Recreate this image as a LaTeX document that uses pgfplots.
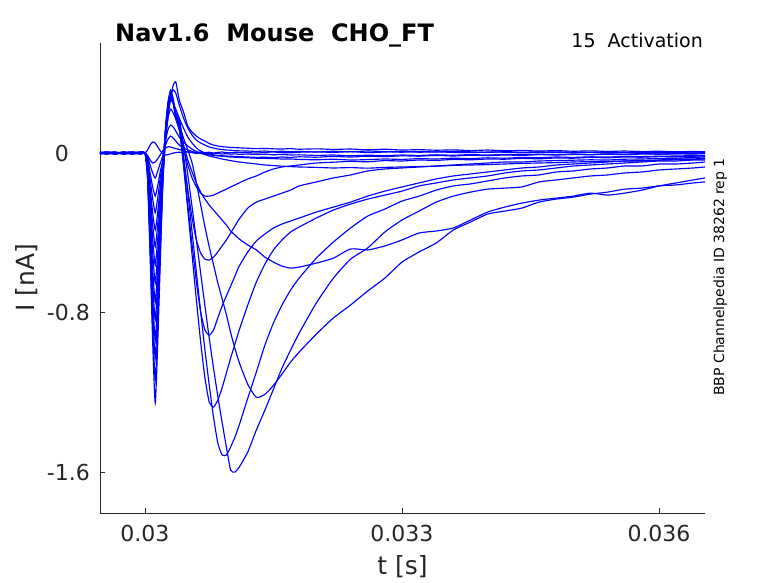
\documentclass[border=0pt]{standalone}
\usepackage{fontspec}
\setmainfont{DejaVu Sans}
\usepackage{pgfplots}
\usepackage{pgfplotstable}
\pgfplotsset{compat=1.18}
\definecolor{axgray}{HTML}{262626}
\pgfplotstableread{
t c1 c2 c3 c4 c5 c6 c7 c8 c9 c10 c11 c12 c13 c14 c15
0.029475 0.003 -0.002 0.005 -0.004 0.002 -0.005 0.004 -0.003 0.006 -0.001 0.004 -0.006 0.001 -0.003 0.005
0.02955 -0.004 0.004 -0.002 0.002 0.005 -0.002 0.001 0.006 -0.005 0.003 -0.006 0.002 -0.003 0.005 0.000
0.02965 0.005 -0.003 0.003 -0.005 -0.003 0.004 -0.004 0.002 0.001 -0.006 0.002 0.005 -0.002 -0.004 0.003
0.02975 -0.002 0.005 -0.005 0.003 0.002 -0.003 0.006 -0.004 0.003 0.001 -0.001 -0.006 0.004 0.002 -0.004
0.02985 0.004 -0.004 0.002 -0.002 0.006 0.001 -0.003 0.003 -0.006 0.005 -0.003 0.002 -0.005 0.003 -0.001
0.02995 -0.003 0.002 0.004 -0.004 -0.002 0.005 0.002 -0.005 0.003 -0.001 0.006 -0.002 0.003 -0.006 0.004
0.03000 0 0 0 0 0 0 0 0 0 0 0 0 0 0 0
0.03003 0.015 -0.012 -0.015 -0.025 -0.03 -0.04 -0.05 -0.06 -0.07 -0.08 -0.09 -0.10 -0.11 -0.12 -0.13
0.03006 0.040 -0.035 -0.06 -0.10 -0.13 -0.17 -0.20 -0.24 -0.28 -0.32 -0.36 -0.40 -0.44 -0.48 -0.52
0.03009 0.055 -0.050 -0.10 -0.17 -0.23 -0.30 -0.36 -0.43 -0.50 -0.58 -0.65 -0.72 -0.79 -0.87 -0.95
0.03012 0.050 -0.045 -0.125 -0.216 -0.30 -0.386 -0.471 -0.562 -0.652 -0.747 -0.837 -0.938 -1.028 -1.138 -1.254
0.03015 0.030 -0.028 -0.09 -0.16 -0.22 -0.29 -0.35 -0.42 -0.49 -0.56 -0.63 -0.70 -0.77 -0.85 -0.94
0.03018 0.010 -0.008 -0.05 -0.09 -0.12 -0.16 -0.20 -0.24 -0.28 -0.32 -0.36 -0.40 -0.44 -0.48 -0.53
0.03021 -0.005 0.012 -0.01 -0.03 -0.04 -0.05 -0.06 -0.07 -0.08 -0.09 -0.10 -0.11 -0.12 -0.13 -0.14
0.03024 -0.010 0.025 0.04 0.06 0.08 0.10 0.11 0.12 0.13 0.12 0.11 0.10 0.09 0.08 0.06
0.03027 -0.008 0.032 0.07 0.12 0.18 0.22 0.24 0.25 0.26 0.25 0.24 0.23 0.22 0.22 0.18
0.03030 -0.004 0.030 0.085 0.14 0.22 0.266 0.29 0.30 0.316 0.306 0.29 0.28 0.266 0.29 0.28
0.03033 0.000 0.026 0.075 0.13 0.20 0.25 0.26 0.26 0.27 0.26 0.25 0.25 0.25 0.316 0.34
0.03036 0.002 0.022 0.06 0.11 0.17 0.20 0.20 0.19 0.19 0.18 0.17 0.18 0.22 0.30 0.356
0.03040 0.004 0.018 0.040 0.080 0.115 0.140 0.175 0.155 0.140 0.125 0.125 0.140 0.175 0.241 0.266
0.03045 0.002 0.010 0.025 0.055 0.040 0.075 0.040 -0.010 -0.060 -0.060 -0.035 0.025 0.125 0.175 0.206
0.03050 0.006 0.005 0.015 0.035 -0.035 0.015 -0.110 -0.196 -0.286 -0.261 -0.186 -0.060 0.080 0.125 0.135
0.03055 0.003 0.002 0.008 0.020 -0.095 -0.050 -0.271 -0.396 -0.512 -0.461 -0.326 -0.125 0.050 0.090 0.105
0.03060 0.001 -0.002 0.003 0.008 -0.150 -0.150 -0.436 -0.597 -0.737 -0.647 -0.436 -0.170 0.025 0.065 0.085
0.03065 0.005 0.001 -0.002 0.000 -0.196 -0.260 -0.602 -0.797 -0.948 -0.797 -0.501 -0.201 0.010 0.050 0.070
0.03070 0.002 -0.003 -0.006 -0.008 -0.231 -0.370 -0.767 -0.988 -1.128 -0.888 -0.532 -0.216 0.000 0.040 0.060
0.03075 0.004 0.000 -0.009 -0.015 -0.261 -0.470 -0.928 -1.163 -1.249 -0.913 -0.537 -0.216 -0.005 0.030 0.048
0.03080 0.000 -0.004 -0.012 -0.020 -0.286 -0.560 -1.078 -1.324 -1.274 -0.888 -0.522 -0.211 -0.010 0.025 0.040
0.03085 0.003 -0.002 -0.014 -0.025 -0.311 -0.650 -1.219 -1.454 -1.239 -0.827 -0.496 -0.201 -0.012 0.020 0.035
0.03090 0.005 -0.005 -0.016 -0.030 -0.336 -0.730 -1.349 -1.514 -1.178 -0.767 -0.466 -0.191 -0.014 0.018 0.032
0.03095 0.002 -0.003 -0.018 -0.034 -0.361 -0.810 -1.474 -1.514 -1.103 -0.717 -0.436 -0.181 -0.015 0.015 0.030
0.03100 0.001 -0.006 -0.020 -0.038 -0.391 -0.900 -1.590 -1.474 -1.028 -0.667 -0.401 -0.170 -0.016 0.014 0.028
0.03105 0.004 -0.004 -0.021 -0.042 -0.411 -0.980 -1.600 -1.424 -0.958 -0.617 -0.366 -0.160 -0.017 0.012 0.027
0.03110 0.003 -0.007 -0.022 -0.045 -0.431 -1.050 -1.575 -1.364 -0.888 -0.567 -0.331 -0.150 -0.018 0.011 0.026
0.03120 0.002 -0.005 -0.024 -0.050 -0.461 -1.160 -1.499 -1.229 -0.762 -0.496 -0.276 -0.130 -0.020 0.010 0.024
0.03130 0.000 -0.008 -0.026 -0.055 -0.486 -1.225 -1.389 -1.098 -0.647 -0.441 -0.246 -0.115 -0.022 0.008 0.022
0.03140 0.003 -0.006 -0.027 -0.060 -0.522 -1.210 -1.289 -0.963 -0.557 -0.406 -0.231 -0.095 -0.021 0.010 0.023
0.03150 0.005 -0.009 -0.028 -0.063 -0.547 -1.165 -1.184 -0.852 -0.486 -0.376 -0.216 -0.080 -0.023 0.007 0.021
0.03160 0.002 -0.007 -0.030 -0.066 -0.567 -1.108 -1.078 -0.762 -0.436 -0.356 -0.201 -0.070 -0.020 0.009 0.020
0.03170 0.001 -0.010 -0.030 -0.068 -0.577 -1.048 -0.988 -0.687 -0.396 -0.341 -0.186 -0.065 -0.022 0.006 0.022
0.03180 0.004 -0.009 -0.032 -0.070 -0.572 -0.998 -0.903 -0.627 -0.371 -0.326 -0.165 -0.060 -0.019 0.008 0.019
0.03200 0.006 -0.012 -0.034 -0.072 -0.552 -0.908 -0.752 -0.527 -0.326 -0.296 -0.145 -0.050 -0.021 0.005 0.021
0.03220 0.003 -0.010 -0.031 -0.075 -0.527 -0.827 -0.627 -0.446 -0.286 -0.271 -0.125 -0.046 -0.017 0.009 0.018
0.03240 0.007 -0.014 -0.035 -0.073 -0.481 -0.762 -0.532 -0.376 -0.256 -0.246 -0.110 -0.042 -0.020 0.006 0.020
0.03260 0.002 -0.011 -0.033 -0.076 -0.486 -0.692 -0.476 -0.316 -0.231 -0.216 -0.090 -0.044 -0.016 0.010 0.016
0.03280 0.005 -0.013 -0.030 -0.072 -0.466 -0.627 -0.396 -0.281 -0.211 -0.191 -0.080 -0.038 -0.018 0.007 0.019
0.03300 0.008 -0.010 -0.032 -0.070 -0.436 -0.547 -0.336 -0.241 -0.191 -0.170 -0.075 -0.040 -0.014 0.004 0.015
0.03320 0.004 -0.012 -0.028 -0.068 -0.401 -0.496 -0.291 -0.216 -0.165 -0.150 -0.070 -0.035 -0.016 0.008 0.017
0.03340 0.006 -0.009 -0.030 -0.066 -0.391 -0.451 -0.246 -0.186 -0.150 -0.130 -0.065 -0.037 -0.012 0.005 0.014
0.03360 0.003 -0.011 -0.026 -0.062 -0.376 -0.386 -0.216 -0.165 -0.135 -0.115 -0.060 -0.032 -0.015 0.009 0.016
0.03380 0.002 -0.008 -0.028 -0.060 -0.336 -0.346 -0.196 -0.155 -0.125 -0.105 -0.055 -0.034 -0.011 0.006 0.012
0.03400 0.005 -0.010 -0.024 -0.058 -0.296 -0.306 -0.181 -0.140 -0.115 -0.095 -0.050 -0.030 -0.013 0.003 0.015
0.03420 0.004 -0.007 -0.026 -0.055 -0.271 -0.291 -0.176 -0.125 -0.100 -0.085 -0.045 -0.031 -0.010 0.007 0.011
0.03440 0.001 -0.009 -0.022 -0.052 -0.251 -0.276 -0.170 -0.115 -0.090 -0.075 -0.045 -0.027 -0.012 0.004 0.013
0.03460 0.003 -0.006 -0.024 -0.050 -0.236 -0.246 -0.145 -0.110 -0.085 -0.070 -0.040 -0.029 -0.008 0.006 0.010
0.03480 0.006 -0.008 -0.020 -0.048 -0.226 -0.231 -0.135 -0.095 -0.075 -0.060 -0.038 -0.025 -0.010 0.002 0.012
0.03500 0.002 -0.005 -0.022 -0.045 -0.216 -0.221 -0.125 -0.090 -0.065 -0.055 -0.036 -0.026 -0.007 0.005 0.009
0.03520 0.004 -0.007 -0.019 -0.043 -0.201 -0.206 -0.115 -0.080 -0.060 -0.050 -0.034 -0.022 -0.009 0.003 0.011
0.03540 0.001 -0.004 -0.020 -0.042 -0.211 -0.196 -0.110 -0.075 -0.055 -0.045 -0.035 -0.024 -0.006 0.006 0.008
0.03560 0.003 -0.006 -0.017 -0.040 -0.201 -0.181 -0.100 -0.065 -0.050 -0.040 -0.031 -0.020 -0.008 0.002 0.010
0.03580 0.000 -0.003 -0.018 -0.037 -0.186 -0.176 -0.095 -0.065 -0.045 -0.040 -0.030 -0.021 -0.005 0.004 0.007
0.03600 0.002 -0.005 -0.016 -0.036 -0.165 -0.165 -0.085 -0.055 -0.040 -0.035 -0.027 -0.018 -0.006 0.001 0.009
0.03620 -0.001 -0.004 -0.015 -0.034 -0.150 -0.160 -0.080 -0.055 -0.040 -0.030 -0.026 -0.019 -0.004 0.003 0.006
0.03640 0.001 -0.002 -0.013 -0.032 -0.135 -0.150 -0.075 -0.050 -0.035 -0.030 -0.022 -0.016 -0.005 0.000 0.008
0.036537 0.000 -0.003 -0.014 -0.030 -0.125 -0.145 -0.070 -0.045 -0.035 -0.025 -0.020 -0.015 -0.003 0.002 0.006
}\traces

\begin{document}
\begin{tikzpicture}
\path[use as bounding box] (-100bp,-70bp) rectangle (678bp,513bp);
\begin{axis}[
  at={(0,0)}, anchor=south west,
  scale only axis, width=605bp, height=470bp,
  xmin=0.029475, xmax=0.036537, ymin=-1.805, ymax=0.5517,
  axis x line*=bottom, axis y line*=left,
  axis line style={axgray, line width=0.6bp},
  xtick={0.03,0.033,0.036}, xticklabels={0.03,0.033,0.036},
  ytick={-1.6,-0.8,0}, yticklabels={-1.6,-0.8,0\phantom{.0}},
  scaled x ticks=false, scaled y ticks=false,
  tick align=inside, major tick length=5bp,
  tick style={axgray, line width=0.6bp},
  ticklabel style={font=\fontsize{22bp}{26bp}\selectfont, text=axgray, inner sep=0pt},
  xticklabel style={anchor=north, yshift=-12bp},
  yticklabel style={anchor=east, xshift=-10bp},
  /pgf/number format/assume math mode=true,
]
\pgfplotsinvokeforeach{c1,c2,c3,c4,c5,c6,c7,c8,c9,c10,c11,c12,c13,c14,c15}{
  \addplot[color=blue, line width=1.15bp, mark=none, smooth, tension=0.35] table[x=t, y=#1]{\traces};
}
\end{axis}
\node[font=\fontsize{25bp}{30bp}\selectfont, text=axgray, anchor=base, inner sep=0pt] at (302.5bp,-61bp) {t [s]};
\node[font=\fontsize{25bp}{30bp}\selectfont, text=axgray, anchor=base, rotate=90, inner sep=0pt] at (-65bp,235bp) {I [nA]};
\node[font=\bfseries\fontsize{24bp}{28bp}\selectfont, anchor=base west, inner sep=0pt] at (15bp,471bp) {Nav1.6\ \ Mouse\ \ CHO\_FT};
\node[font=\fontsize{19bp}{23bp}\selectfont, anchor=base east, inner sep=0pt] at (603bp,465bp) {15\ \ Activation};
\node[font=\fontsize{14bp}{16bp}\selectfont, anchor=base, rotate=90, inner sep=0pt] at (624bp,236bp) {BBP Channelpedia ID 38262 rep 1};
\end{tikzpicture}
\end{document}
